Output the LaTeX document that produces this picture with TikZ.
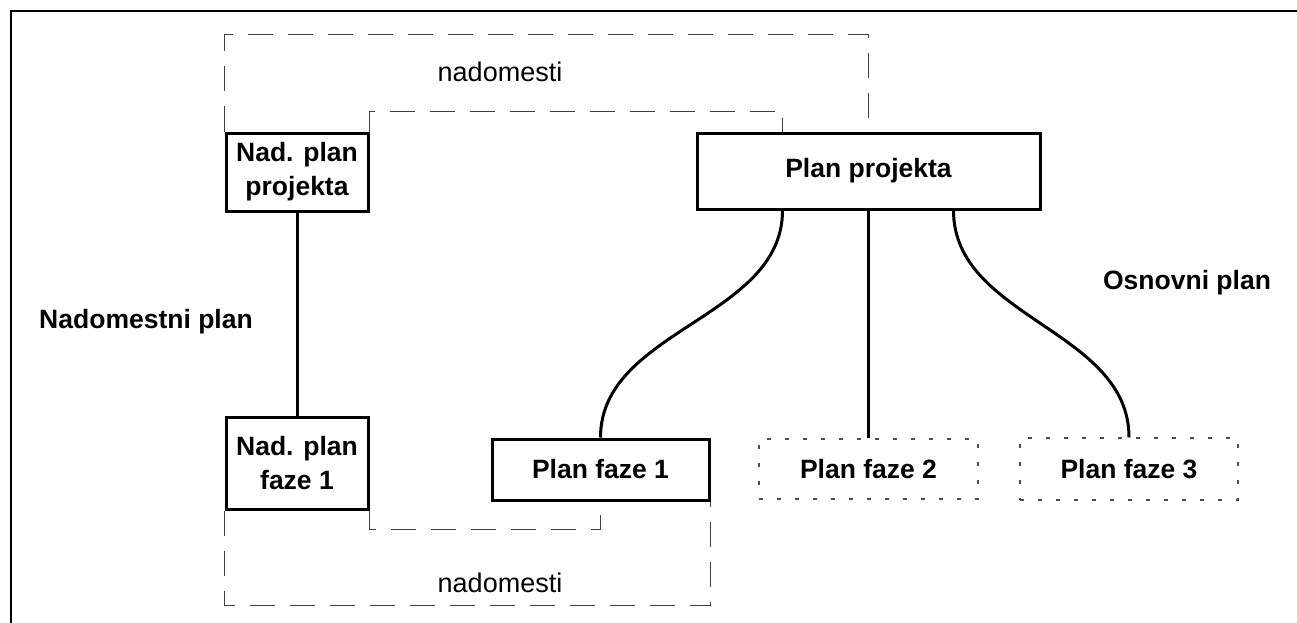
\documentclass[tikz,border=0pt]{standalone}
\usepackage{fontspec}
\setmainfont{Liberation Sans}
\usetikzlibrary{calc}
\begin{document}
\begin{tikzpicture}[x=1pt,y=-1pt,
  planbox/.style={draw, line width=3pt, rectangle, inner sep=0pt, align=center,
    font=\bfseries\fontsize{26.5}{34}\selectfont},
  optbox/.style={draw=black!70, line width=1.2pt, dash pattern=on 4pt off 14pt,
    rectangle, inner sep=0pt, font=\bfseries\fontsize{26.5}{34}\selectfont},
  link/.style={line width=3pt},
  swap/.style={draw=black!75, line width=1.2pt, dash pattern=on 25pt off 15pt},
  tag/.style={font=\bfseries\fontsize{26.5}{32}\selectfont},
  note/.style={font=\fontsize{27}{32}\selectfont}]

\useasboundingbox (0,0) rectangle (1297,623);
% frame edges
\draw[line width=2pt] (11,623) -- (11,11) -- (1297,11);

% plans
\node[planbox, minimum width=142pt, minimum height=78pt] (npp) at (297,172) {Nad. plan\\projekta};
\node[planbox, minimum width=142pt, minimum height=92pt] (npf) at (297,463) {Nad. plan\\faze 1};
\node[planbox, minimum width=343pt, minimum height=76pt] (pp) at (868.5,171) {Plan projekta};
\node[planbox, minimum width=217pt, minimum height=61pt] (pf1) at (600.5,469.5) {Plan faze 1};
\node[optbox, minimum width=219pt, minimum height=60pt] (pf2) at (868.5,469) {Plan faze 2};
\node[optbox, minimum width=218pt, minimum height=62pt] (pf3) at (1129,469) {Plan faze 3};

% hierarchy links
\draw[link] (npp) -- (npf);
\draw[link] ($(pp.south)+(-86,0)$) .. controls +(0,108) and +(0,-108) .. (pf1.north);
\draw[link] (pp.south) -- (pf2.north);
\draw[link] ($(pp.south)+(85,0)$) .. controls +(0,108) and +(0,-108) .. (pf3.north);

% replacement loops
\draw[swap] (npp.north east) -- ++(0,-20) -| ($(pp.north)+(-86,0)$);
\draw[swap] (npp.north west) -- ++(0,-97) -| (pp.north);
\draw[swap] (npf.south east) -- ++(0,19) -| (pf1.south);
\draw[swap] (npf.south west) -- ++(0,95) -| (pf1.south east);

% labels
\node[tag] (np) at (146,322) {Nadomestni plan};
\node[tag] (op) at (1187,283) {Osnovni plan};
\node[note] (n1) at (500,72) {nadomesti};
\node[note] (n2) at (500,583) {nadomesti};
\end{tikzpicture}
\end{document}
